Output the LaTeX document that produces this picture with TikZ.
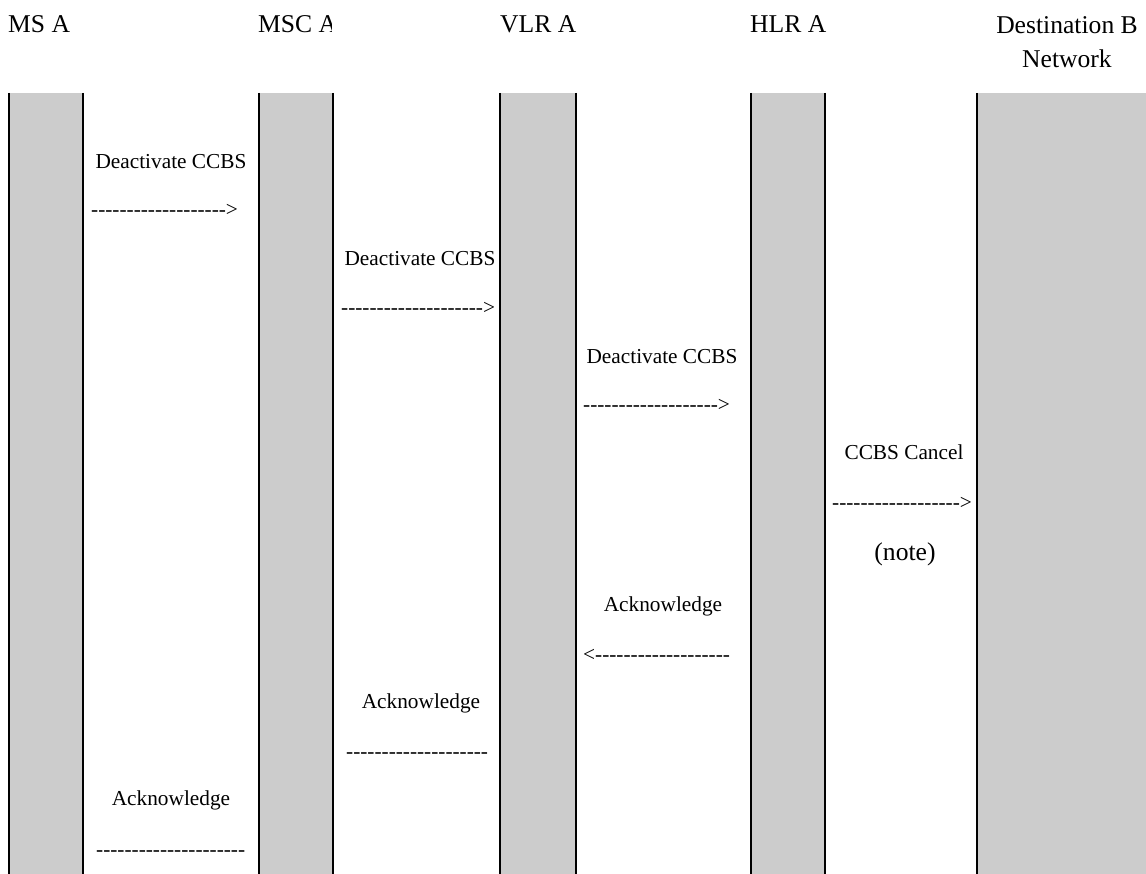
\documentclass[tikz,border=0pt]{standalone}
\usepackage{fontspec}
\setmainfont{Liberation Serif}
\definecolor{lane}{HTML}{CCCCCC}
\newcommand\dashrun[1]{\foreach\k in {1,...,#1}{\hbox{-}}}
\begin{document}
\begin{tikzpicture}[x=1pt,y=-1pt,
  lanefill/.style={fill=lane},
  laneedge/.style={line width=2pt,black},
  hdr/.style={inner sep=0pt,font=\fontsize{25.6}{30}\selectfont,anchor=base west},
  hdrc/.style={inner sep=0pt,font=\fontsize{25.6}{30}\selectfont,anchor=base},
  lbl/.style={inner sep=0pt,font=\fontsize{21.3}{25}\selectfont,anchor=base},
  arr/.style={inner sep=0pt,font=\fontsize{21.3}{25}\selectfont,anchor=base west}]
\useasboundingbox (0,0) rectangle (1146,874);
% lanes
\fill[lanefill] (8,93) rectangle (84,874);
\fill[lanefill] (258,93) rectangle (334,874);
\fill[lanefill] (499,93) rectangle (577,874);
\fill[lanefill] (750,93) rectangle (826,874);
\fill[lanefill] (976,93) rectangle (1146,874);
\foreach \x in {9,83,259,333,500,576,751,825,977}
  \draw[laneedge] (\x,93) -- (\x,874);
% headers
\node[hdr] (hms) at (8,33) {MS A};
\begin{scope}
  \clip (250,0) rectangle (331,90);
  \node[hdr] (hmsc) at (258,33) {MSC A};
\end{scope}
\node[hdr] (hvlr) at (500,33) {VLR A};
\node[hdr] (hhlr) at (750,33) {HLR A};
\node[hdrc] (hdst1) at (1067,34) {Destination B};
\node[hdrc] (hdst2) at (1067,68) {Network};
% messages
\node[lbl] (m1) at (171,169) {Deactivate CCBS};
\node[arr] (a1) at (91,217) {\dashrun{19}>};
\node[lbl] (m2) at (420,266) {Deactivate CCBS};
\node[arr] (a2) at (341,315) {\dashrun{20}>};
\node[lbl] (m3) at (662,364) {Deactivate CCBS};
\node[arr] (a3) at (583,412) {\dashrun{19}>};
\node[lbl] (m4) at (904,460) {CCBS Cancel};
\node[arr] (a4) at (832,509) {\dashrun{18}>};
\node[hdrc] (note) at (905,560) {(note)};
\node[lbl] (k1) at (663,611) {Acknowledge};
\node[arr] (b1) at (583,661) {<\dashrun{19}};
\node[lbl] (k2) at (421,708) {Acknowledge};
\node[arr] (b2) at (346,758) {\dashrun{20}};
\node[lbl] (k3) at (171,805) {Acknowledge};
\node[arr] (b3) at (96,856) {\dashrun{21}};
\end{tikzpicture}
\end{document}
